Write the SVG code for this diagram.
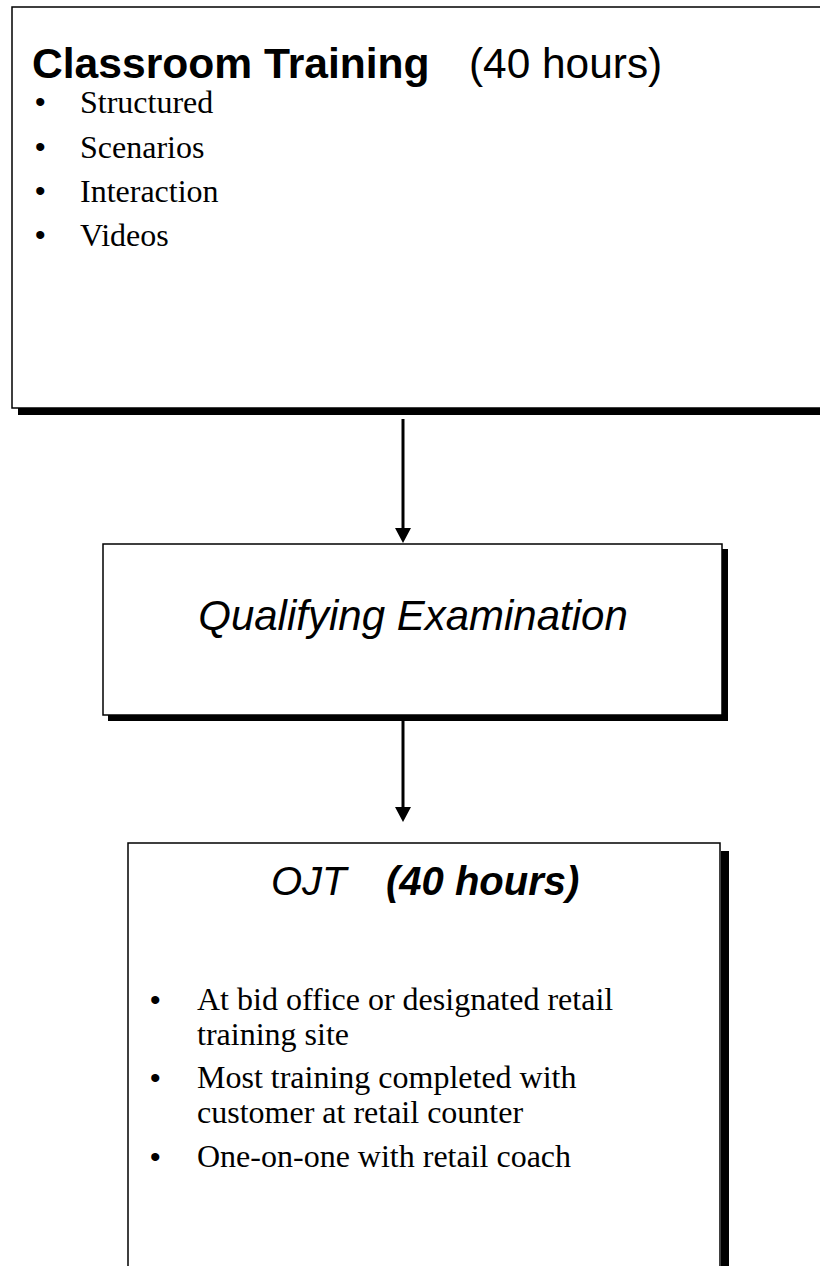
<svg xmlns="http://www.w3.org/2000/svg" width="820" height="1266" viewBox="0 0 820 1266">
<style>
.box{fill:#fff;stroke:#000;stroke-width:1.5}
.shadow{fill:#000}
.h{font-family:"Liberation Sans",Arial,sans-serif;fill:#000}
.b{font-family:"Liberation Serif","Times New Roman",serif;font-size:32px;fill:#000}
.dot{font-family:"Liberation Sans",Arial,sans-serif;font-size:30px;fill:#000}
.conn{stroke:#000;stroke-width:3;fill:none}
</style>
<defs>
<marker id="ah" markerUnits="userSpaceOnUse" markerWidth="16" markerHeight="16" viewBox="0 0 16 16" refX="0" refY="8" orient="auto">
<path d="M0,0 L15,8 L0,16 z" fill="#000"/>
</marker>
</defs>
<rect width="820" height="1266" fill="#fff"/>
<g id="classroom">
<rect class="shadow" x="18" y="408" width="802" height="7"/>
<rect class="box" x="12" y="7" width="820" height="401"/>
<text class="h" x="32" y="78" font-size="42.6" font-weight="bold">Classroom Training</text>
<text class="h" x="469" y="78" font-size="42.4">(40 hours)</text>
<text class="dot" x="35" y="112">•</text><text class="b" x="80" y="113">Structured</text>
<text class="dot" x="35" y="157">•</text><text class="b" x="80" y="158">Scenarios</text>
<text class="dot" x="35" y="201">•</text><text class="b" x="80" y="202">Interaction</text>
<text class="dot" x="35" y="245">•</text><text class="b" x="80" y="246">Videos</text>
</g>
<g id="exam">
<rect class="shadow" x="108" y="549" width="620" height="172"/>
<rect class="box" x="103" y="544" width="619" height="171"/>
<text class="h" x="413" y="630" font-size="42" font-style="italic" text-anchor="middle">Qualifying Examination</text>
</g>
<g id="ojt">
<rect class="shadow" x="721" y="851" width="8" height="420"/>
<rect class="box" x="128" y="843" width="592" height="430"/>
<text class="h" x="271" y="895" font-size="40" font-style="italic">OJT</text>
<text class="h" x="386" y="895" font-size="40" font-style="italic" font-weight="bold">(40 hours)</text>
<text class="dot" x="150" y="1010">•</text><text class="b" x="197" y="1010">At bid office or designated retail</text>
<text class="b" x="197" y="1045">training site</text>
<text class="dot" x="150" y="1088">•</text><text class="b" x="197" y="1088">Most training completed with</text>
<text class="b" x="197" y="1123">customer at retail counter</text>
<text class="dot" x="150" y="1167">•</text><text class="b" x="197" y="1167">One-on-one with retail coach</text>
</g>
<g id="connectors">
<line class="conn" x1="403" y1="419" x2="403" y2="528" marker-end="url(#ah)"/>
<line class="conn" x1="403" y1="719" x2="403" y2="807" marker-end="url(#ah)"/>
</g>
</svg>
